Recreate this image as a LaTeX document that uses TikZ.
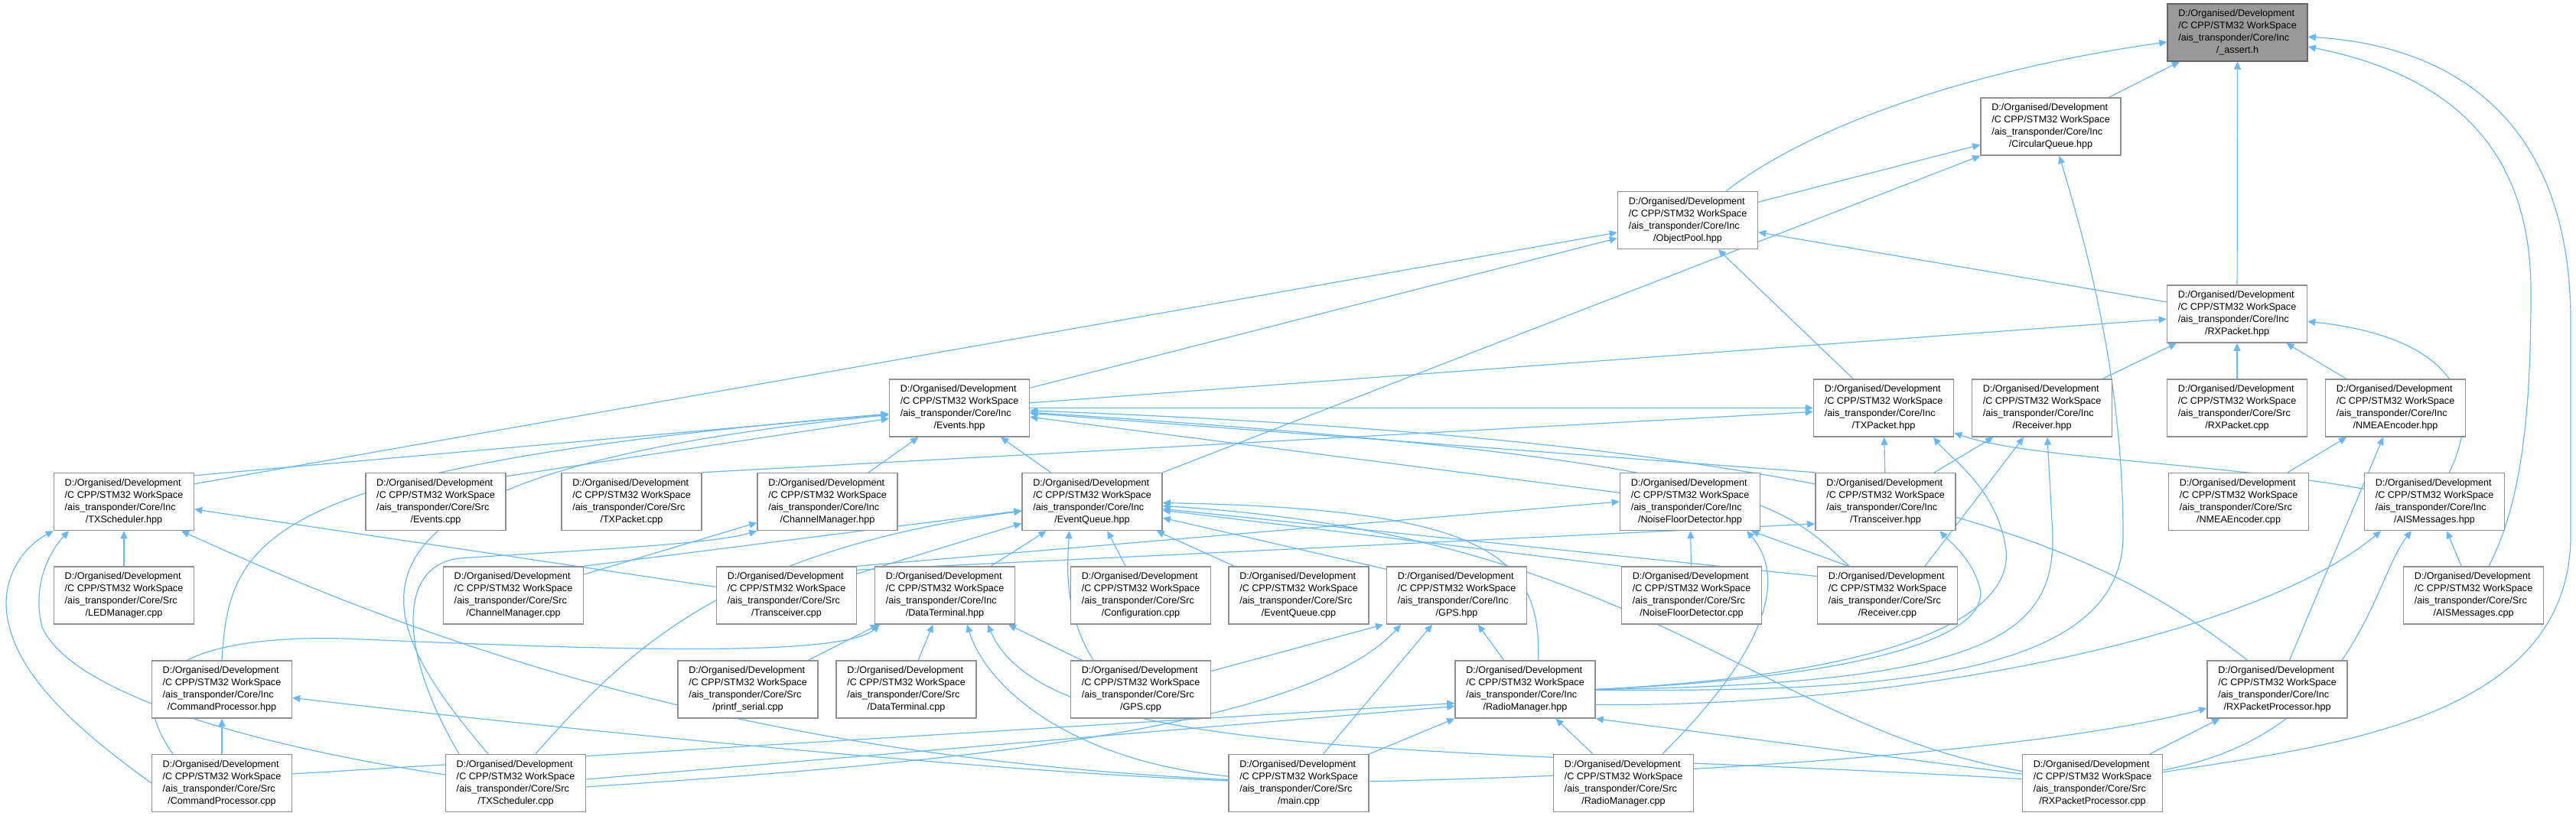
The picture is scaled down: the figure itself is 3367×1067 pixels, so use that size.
\documentclass[tikz,border=0pt]{standalone}
\usepackage{fontspec}
\setmainfont{Liberation Sans}
\usetikzlibrary{arrows.meta,calc}
\pgfdeclarelayer{bg}
\pgfsetlayers{bg,main}
\definecolor{edgecol}{HTML}{63B8FF}
\definecolor{boxborder}{HTML}{8F8F8F}
\definecolor{selfill}{HTML}{999999}
\definecolor{selborder}{HTML}{666666}
\newcommand{\flabel}[2]{\begin{tabular}{@{}l@{}}D:/Organised/Development\\/C CPP/STM32 WorkSpace\\/ais\_transponder/Core/#1\\\multicolumn{1}{@{}c@{}}{/#2}\end{tabular}}
\begin{document}
\begin{tikzpicture}[x=1pt,y=-1pt,
  every node/.style={font=\fontsize{12.6}{16}\selectfont},
  box/.style={draw=boxborder,fill=white,line width=1.5pt,minimum width=183pt,minimum height=75pt,inner sep=0pt,align=center},
  selbox/.style={box,draw=selborder,fill=selfill},
  edge/.style={draw=edgecol,line width=1.2pt,-{Triangle[length=10pt,width=9pt]}}]
\useasboundingbox (0,0) rectangle (3367,1067);
% row A-D
\node[selbox] (assert) at (2924.5,42.5) {\flabel{Inc}{\_assert.h}};
\node[box] (CQ) at (2680.5,165.5) {\flabel{Inc}{CircularQueue.hpp}};
\node[box] (OP) at (2206,288) {\flabel{Inc}{ObjectPool.hpp}};
\node[box] (RXPh) at (2924,410.5) {\flabel{Inc}{RXPacket.hpp}};
% row E
\node[box] (EVh) at (1254,533.5) {\flabel{Inc}{Events.hpp}};
\node[box] (TXPh) at (2462,533.5) {\flabel{Inc}{TXPacket.hpp}};
\node[box] (RCVh) at (2669,533.5) {\flabel{Inc}{Receiver.hpp}};
\node[box] (RXPc) at (2924,533.5) {\flabel{Src}{RXPacket.cpp}};
\node[box] (NMEAh) at (3131,533.5) {\flabel{Inc}{NMEAEncoder.hpp}};
% row F
\node[box] (TXSh) at (162,656) {\flabel{Inc}{TXScheduler.hpp}};
\node[box] (EVc) at (569.5,656) {\flabel{Src}{Events.cpp}};
\node[box] (TXPc) at (825.5,656) {\flabel{Src}{TXPacket.cpp}};
\node[box] (CHMh) at (1081.5,656) {\flabel{Inc}{ChannelManager.hpp}};
\node[box] (EQh) at (1427.5,656) {\flabel{Inc}{EventQueue.hpp}};
\node[box] (NFDh) at (2209,656) {\flabel{Inc}{NoiseFloorDetector.hpp}};
\node[box] (TRCh) at (2464.5,656) {\flabel{Inc}{Transceiver.hpp}};
\node[box] (NMEAc) at (2926,656) {\flabel{Src}{NMEAEncoder.cpp}};
\node[box] (AISh) at (3182,656) {\flabel{Inc}{AISMessages.hpp}};
% row G
\node[box] (LEDc) at (162,778.5) {\flabel{Src}{LEDManager.cpp}};
\node[box] (CHMc) at (671,778.5) {\flabel{Src}{ChannelManager.cpp}};
\node[box] (TRCc) at (1028,778.5) {\flabel{Src}{Transceiver.cpp}};
\node[box] (DTh) at (1235,778.5) {\flabel{Inc}{DataTerminal.hpp}};
\node[box] (CFGc) at (1491,778.5) {\flabel{Src}{Configuration.cpp}};
\node[box] (EQc) at (1697.5,778.5) {\flabel{Src}{EventQueue.cpp}};
\node[box] (GPSh) at (1904,778.5) {\flabel{Inc}{GPS.hpp}};
\node[box] (NFDc) at (2211,778.5) {\flabel{Src}{NoiseFloorDetector.cpp}};
\node[box] (RCVc) at (2467,778.5) {\flabel{Src}{Receiver.cpp}};
\node[box] (AISc) at (3233,778.5) {\flabel{Src}{AISMessages.cpp}};
% row H
\node[box] (CMDh) at (290,901.5) {\flabel{Inc}{CommandProcessor.hpp}};
\node[box] (PRNc) at (977.5,901.5) {\flabel{Src}{printf\_serial.cpp}};
\node[box] (DTc) at (1184.5,901.5) {\flabel{Src}{DataTerminal.cpp}};
\node[box] (GPSc) at (1491,901.5) {\flabel{Src}{GPS.cpp}};
\node[box] (RMh) at (1993.5,901.5) {\flabel{Inc}{RadioManager.hpp}};
\node[box] (RXPPh) at (2976.5,901.5) {\flabel{Inc}{RXPacketProcessor.hpp}};
% row I
\node[box] (CMDc) at (290,1024) {\flabel{Src}{CommandProcessor.cpp}};
\node[box] (TXSc) at (674,1024) {\flabel{Src}{TXScheduler.cpp}};
\node[box] (MAINc) at (1697.5,1024) {\flabel{Src}{main.cpp}};
\node[box] (RMc) at (2122,1024) {\flabel{Src}{RadioManager.cpp}};
\node[box] (RXPPc) at (2735,1024) {\flabel{Src}{RXPacketProcessor.cpp}};

\begin{pgfonlayer}{bg}
% into _assert.h
\draw[edge] (CQ) -- (assert);
\draw[edge] (OP) .. controls (2400,140) and (2650,80) .. (assert);
\draw[edge] (RXPh) -- (assert);
\draw[edge] (AISc) .. controls (3300,650) and (3308,520) .. (3308,380) .. controls (3308,160) and (3160,90) .. (assert);
\draw[edge] (RXPPc) .. controls (3050,975) and (3360,940) .. (3360,700) -- (3360,420) .. controls (3360,160) and (3210,60) .. (assert);
% into CircularQueue
\draw[edge] (OP) -- (CQ);
\draw[edge] (EQh.north east) -- (CQ.south west);
\draw[edge] (RMh) .. controls (2450,905) and (2775,890) .. (2775,700) .. controls (2775,480) and (2720,300) .. (CQ);
% into ObjectPool
\draw[edge] ([yshift=-15pt]TXSh.north east) -- (OP);
\draw[edge] ([yshift=-12pt]EVh.north east) -- (OP);
\draw[edge] (TXPh) -- (OP);
\draw[edge] (RXPh) -- (OP);
% into RXPacket.hpp
\draw[edge] (EVh) -- (RXPh);
\draw[edge] (RCVh) -- (RXPh);
\draw[edge] (RXPc) -- (RXPh);
\draw[edge] (NMEAh) -- (RXPh);
\draw[edge] (AISh) .. controls (3250,520) and (3200,440) .. (RXPh);
% into TXPacket.hpp
\draw[edge] (EVh) -- (TXPh);
\draw[edge] (AISh) .. controls (2900,605) and (2650,600) .. (TXPh);
\draw[edge] (TRCh) -- (TXPh);
\draw[edge] (TXPc.north east) -- (TXPh);
\draw[edge] (RMh.east) .. controls (2500,880) and (2630,800) .. (2622,720) .. controls (2612,640) and (2550,600) .. ([xshift=65pt]TXPh.south);
% into Receiver.hpp
\draw[edge] (TRCh) -- (RCVh);
\draw[edge] ([xshift=49pt]RCVc.north) -- ([xshift=-24pt]RCVh.south);
\draw[edge] (RMh.east) .. controls (2600,895) and (2685,830) .. (2683,700) -- ([xshift=7pt]RCVh.south);
% NMEA / AIS / RXPP
\draw[edge] (NMEAc) -- (NMEAh);
\draw[edge] (RXPPh) -- (NMEAh);
\draw[edge] (AISc) -- (AISh);
\draw[edge] (RXPPc) .. controls (3080,960) and (3100,760) .. (AISh);
\draw[edge] ([yshift=-20pt]RMh.east) .. controls (2500,925) and (2950,830) .. ([xshift=-70pt]AISh.south);
\draw[edge] (RXPPc) -- (RXPPh);
\draw[edge] (MAINc) .. controls (2300,1010) and (2700,975) .. (RXPPh);
% into Events.hpp
\draw[edge] ([yshift=-4pt]TXSh.north east) -- (EVh);
\draw[edge] ([yshift=-5pt]EVc.north east) -- (EVh);
\draw[edge] (CHMh) -- (EVh);
\draw[edge] (EQh) -- (EVh);
\draw[edge] (NFDh) -- (EVh);
\draw[edge] (TRCh.north west) -- (EVh);
\draw[edge] ([xshift=-39pt]RXPPh.north) .. controls (2750,720) and (2500,580) .. (EVh);
\draw[edge] (CMDh.north) .. controls (300,700) and (340,610) .. (EVh);
\draw[edge] ([xshift=-36pt]TXSc.north) .. controls (480,800) and (380,620) .. (EVh);
\draw[edge] ([xshift=-50pt]RCVc.north) .. controls (2330,660) and (2300,600) .. (EVh);
% into ChannelManager.hpp
\draw[edge] (CHMc) -- (CHMh);
\draw[edge] ([xshift=-74pt]TXSc.north) .. controls (520,850) and (520,740) .. (600,730) .. controls (750,720) and (930,712) .. (CHMh.south west);
% into EventQueue.hpp
\draw[edge] (DTh) -- (EQh);
\draw[edge] (CFGc) -- (EQh);
\draw[edge] (EQc) -- (EQh);
\draw[edge] ([yshift=-4pt]GPSh.north west) -- (EQh);
\draw[edge] (NFDc.north west) -- (EQh);
\draw[edge] ([xshift=-62pt]GPSc.north) .. controls (1390,800) and (1395,740) .. ([xshift=-30pt]EQh.south);
\draw[edge] ([xshift=17pt]RMh.north) .. controls (2015,730) and (1950,665) .. (EQh);
\draw[edge] (RXPPc) .. controls (2300,950) and (2150,700) .. (EQh);
\draw[edge] ([yshift=25pt]RCVc.west) -- (EQh);
\draw[edge] (TRCc) -- (EQh);
\draw[edge] (CHMc.north east) -- (EQh);
\draw[edge] ([xshift=26pt]TXSc.north) .. controls (820,850) and (950,720) .. (EQh);
% into Transceiver.hpp
\draw[edge] ([yshift=-5pt]TRCc.north east) -- ([yshift=-29pt]TRCh.west);
\draw[edge] (RMh.east) .. controls (2450,885) and (2600,830) .. (2588,770) .. controls (2578,730) and (2548,708) .. ([xshift=71pt]TRCh.south);
% into NoiseFloorDetector.hpp
\draw[edge] (NFDc) -- (NFDh);
\draw[edge] ([xshift=-51pt]RCVc.north) -- ([xshift=80pt]NFDh.south);
\draw[edge] ([xshift=51pt]RMc.north) .. controls (2300,860) and (2340,760) .. ([xshift=74pt]NFDh.south);
\draw[edge] (TRCc.north east) -- (NFDh.west);
% into TXScheduler.hpp
\draw[edge] (LEDc) -- (TXSh);
\draw[edge] ([yshift=11pt]TRCc.west) -- ([yshift=-10pt]TXSh.east);
\draw[edge] (MAINc) .. controls (1000,990) and (600,860) .. ([xshift=75pt]TXSh.south);
\draw[edge] (CMDc.west) .. controls (110,960) and (10,880) .. (8,790) .. controls (8,740) and (40,710) .. (TXSh.south west);
\draw[edge] ([yshift=11pt]TXSc.west) .. controls (300,970) and (90,900) .. (55,820) .. controls (40,760) and (70,715) .. ([xshift=-72pt]TXSh.south);
% into CommandProcessor.hpp
\draw[edge] (CMDc) -- (CMDh);
\draw[edge] (MAINc) .. controls (1300,1010) and (700,950) .. (CMDh);
% into DataTerminal.hpp
\draw[edge] ([xshift=79pt]PRNc.north) -- ([xshift=-87pt]DTh.south);
\draw[edge] (DTc) -- (DTh);
\draw[edge] ([xshift=-77pt]GPSc.north) -- ([xshift=83pt]DTh.south);
\draw[edge] (MAINc) .. controls (1400,995) and (1290,900) .. ([xshift=29pt]DTh.south);
\draw[edge] (RXPPc) .. controls (1900,975) and (1370,1000) .. ([xshift=56pt]DTh.south);
\draw[edge] ([xshift=-64pt]CMDc.north) .. controls (150,880) and (250,830) .. (450,835) .. controls (800,850) and (1100,860) .. ([xshift=-85pt]DTh.south);
% into GPS.hpp
\draw[edge] ([yshift=24pt]GPSc.east) -- ([xshift=-96pt]GPSh.south);
\draw[edge] (MAINc) -- (GPSh);
\draw[edge] (RMh) -- (GPSh);
\draw[edge] ([yshift=-5pt]TXSc.east) .. controls (1200,1000) and (1700,960) .. ([xshift=-73pt]GPSh.south);
% into RadioManager.hpp
\draw[edge] (MAINc) -- (RMh);
\draw[edge] (RMc) -- (RMh);
\draw[edge] (RXPPc) -- (RMh.south east);
\draw[edge] ([yshift=12pt]CMDc.east) -- ([yshift=-18pt]RMh.west);
\draw[edge] ([yshift=5pt]TXSc.east) -- ([yshift=-22pt]RMh.west);
\end{pgfonlayer}
\end{tikzpicture}
\end{document}
